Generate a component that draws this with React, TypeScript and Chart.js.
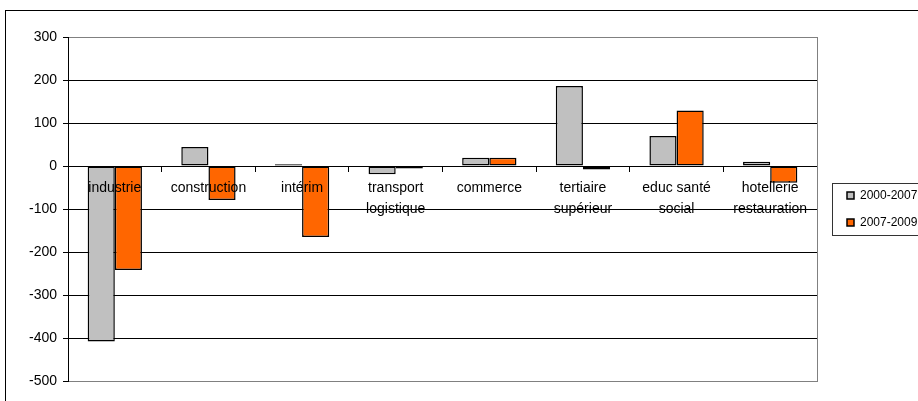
import React, { useEffect, useRef } from "react";
import { Chart, registerables } from "chart.js";

Chart.register(...registerables);

const categories: (string | string[])[] = [
  "industrie",
  "construction",
  "intérim",
  ["transport", "logistique"],
  "commerce",
  ["tertiaire", "supérieur"],
  ["educ santé", "social"],
  ["hotellerie", "restauration"],
];
const series2000_2007 = [-408, 44, 4, -19, 19, 186, 70, 10];
const series2007_2009 = [-242, -79, -165, -6, 19, -8, 129, -39];
const seriesLabels = ["2000-2007", "2007-2009"];
const yMin = -500;
const yMax = 300;
const yStep = 100;

const FONT = "'Liberation Sans', Arial, sans-serif";

const legendBorder = {
  id: "legendBorder",
  afterDraw(chart: any) {
    const lg = chart.legend;
    if (!lg || !lg.legendHitBoxes || lg.legendHitBoxes.length < 2) return;
    const hb = lg.legendHitBoxes;
    const ctx = chart.ctx;
    const left = hb[0].left - 15;
    const top = hb[0].top - 7;
    const bottom = hb[hb.length - 1].top + hb[hb.length - 1].height + 6;
    ctx.save();
    ctx.strokeStyle = "#333333";
    ctx.lineWidth = 1;
    ctx.strokeRect(Math.round(left) + 0.5, Math.round(top) + 0.5, 200, Math.round(bottom - top));
    ctx.restore();
  },
};

export default function App() {
  const ref = useRef<HTMLCanvasElement>(null);
  useEffect(() => {
    if (!ref.current) return;
    const chart = new Chart(ref.current, {
      type: "bar",
      data: {
        labels: categories,
        datasets: [
          {
            label: seriesLabels[0],
            data: series2000_2007,
            backgroundColor: "#C0C0C0",
            borderColor: "#000000",
            borderWidth: 1.5,
            borderSkipped: false,
            categoryPercentage: 0.58,
            barPercentage: 1,
          },
          {
            label: seriesLabels[1],
            data: series2007_2009,
            backgroundColor: "#FF6600",
            borderColor: "#000000",
            borderWidth: 1.5,
            borderSkipped: false,
            categoryPercentage: 0.58,
            barPercentage: 1,
          },
        ],
      },
      options: {
        animation: false,
        responsive: false,
        maintainAspectRatio: false,
        layout: { padding: { top: 37, bottom: 20, left: 0, right: 0 } },
        plugins: {
          title: { display: false },
          tooltip: { enabled: false },
          legend: {
            display: true,
            position: "right",
            maxWidth: 86,
            labels: {
              boxWidth: 7,
              boxHeight: 7,
              padding: 15,
              color: "#000000",
              font: { family: FONT, size: 12 },
            },
          },
        },
        scales: {
          x: {
            position: { y: 0 } as any,
            grid: {
              display: true,
              drawOnChartArea: false,
              drawTicks: true,
              tickLength: 5,
              color: "#000000",
              offset: true,
            },
            border: { display: true, color: "#000000", width: 1 },
            ticks: {
              color: "#000000",
              padding: 7,
              maxRotation: 0,
              autoSkip: false,
              font: { family: FONT, size: 14, lineHeight: 1.5 },
              z: 1,
            } as any,
          },
          y: {
            min: yMin,
            max: yMax,
            afterFit(scale: any) {
              scale.width = 68;
            },
            grid: {
              color: (ctx: any) => {
                const v = ctx.tick ? ctx.tick.value : 0;
                return v === yMin || v === yMax ? "#808080" : "#000000";
              },
              tickColor: "#000000",
              tickLength: 5,
              lineWidth: 1,
            },
            border: { display: true, color: "#000000", width: 1 },
            ticks: {
              stepSize: yStep,
              color: "#000000",
              padding: 6,
              font: { family: FONT, size: 14 },
            },
          },
          y2: {
            position: "right",
            min: yMin,
            max: yMax,
            afterFit(scale: any) {
              scale.width = 15;
            },
            grid: { display: true, drawOnChartArea: false, drawTicks: false },
            border: { display: true, color: "#808080", width: 1 },
            ticks: { display: false },
          },
        },
      },
      plugins: [legendBorder],
    });
    return () => chart.destroy();
  }, []);

  return (
    <div
      style={{
        position: "fixed",
        left: 0,
        top: 0,
        width: 918,
        height: 401,
        overflow: "hidden",
        background: "#ffffff",
      }}
    >
      <div
        style={{
          position: "absolute",
          left: 5,
          top: 10,
          width: 1000,
          height: 1000,
          border: "1px solid #000000",
          boxSizing: "border-box",
        }}
      />
      <canvas
        ref={ref}
        width={918}
        height={401}
        style={{ position: "absolute", left: 0, top: 0, width: 918, height: 401 }}
      />
    </div>
  );
}
